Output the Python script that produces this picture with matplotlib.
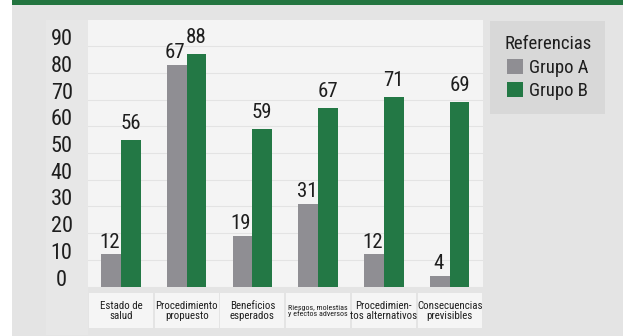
import matplotlib.pyplot as plt
import matplotlib.patches as patches
import matplotlib.transforms as mtransforms
import numpy as np
from matplotlib import rcParams, font_manager

nombres = {f.name for f in font_manager.fontManager.ttflist}
familia = 'Roboto'
for cand in ['Roboto Condensed', 'Liberation Sans Narrow', 'Open Sans Condensed']:
    if cand in nombres:
        familia = cand
        break
rcParams['font.family'] = [familia, 'DejaVu Sans']

# Data
categorias = ['Estado de\nsalud', 'Procedimiento\npropuesto', 'Beneficios\nesperados',
              'Riesgos, molestias\ny efectos adversos', 'Procedimien-\ntos alternativos',
              'Consecuencias\nprevisibles']
grupo_a = [12, 83, 19, 31, 12, 4]
grupo_b = [55, 87, 59, 67, 71, 69]
etiquetas_a = ['12', '67', '19', '31', '12', '4']
etiquetas_b = ['56', '88', '59', '67', '71', '69']
yticks = [0, 10, 20, 30, 40, 50, 60, 70, 80, 90]

GRIS = '#8f8e93'
VERDE = '#237845'
TEXTO = '#1e1e1e'

W, H = 623, 336
fig = plt.figure(figsize=(W / 100, H / 100), dpi=100)
fig.patch.set_facecolor('white')

def px(x0, y0, w, h, color):
    fig.patches.append(patches.Rectangle((x0 / W, 1 - (y0 + h) / H), w / W, h / H,
                                         transform=fig.transFigure, fc=color, ec='none',
                                         zorder=-5))

# background panels
px(12, 0, 611, 336, '#e4e4e4')
px(12, 0, 611, 5, '#237540')
px(46, 20, 42, 315, '#e7e7e7')

ax = fig.add_axes([88 / W, 1 - 286.5 / H, (482.5 - 88) / W, (286.5 - 19.5) / H])
ax.set_facecolor('#f4f4f4')
ax.set_xlim(-0.5, 5.5)
ax.set_ylim(0, 100)

x = np.arange(len(categorias))
w = 0.3
ax.bar(x - w / 2, grupo_a, w, color=GRIS, label='Grupo A', zorder=3)
ax.bar(x + w / 2, grupo_b, w, color=VERDE, label='Grupo B', zorder=3)

for i in range(len(x)):
    ax.annotate(etiquetas_a[i], (x[i] - w / 2, grupo_a[i]), xytext=(-1, 2),
                textcoords='offset points', ha='center', va='bottom', fontsize=15,
                color=TEXTO)
    ax.annotate(etiquetas_b[i], (x[i] + w / 2, grupo_b[i]), xytext=(0, 5),
                textcoords='offset points', ha='center', va='bottom', fontsize=15,
                color=TEXTO)

ax.set_yticks(yticks)
for t in yticks:
    ax.axhline(t, color='#e3e3e3', lw=0.8, zorder=1)
ax.set_yticklabels([])
for t in yticks:
    ax.text(-0.9, t + 2.4, str(t), ha='center', va='center', fontsize=16,
            color=TEXTO, transform=ax.transData, clip_on=False)
ax.set_xticks([])
for s in ax.spines.values():
    s.set_visible(False)
ax.tick_params(left=False)

# category label boxes
trans = mtransforms.blended_transform_factory(ax.transData, ax.transAxes)
for i, cat in enumerate(categorias):
    ax.add_patch(patches.Rectangle((i - 0.485, -0.157), 0.97, 0.131, transform=trans,
                                   fc='#f5f5f5', ec='none', clip_on=False))
    fs = 5.8 if i == 3 else 7.8
    ax.text(i, -0.092, cat, transform=trans, ha='center', va='center', fontsize=fs,
            linespacing=1.0, color=TEXTO, clip_on=False)

leg = fig.legend(loc='upper left', bbox_to_anchor=(490 / W, 1 - 21 / H), title='Referencias',
                 frameon=True, facecolor='#d8d8d8', edgecolor='none', fancybox=False,
                 fontsize=13.5, title_fontsize=13.5, handlelength=0.85, handleheight=0.85,
                 handletextpad=0.35, borderpad=0.75, labelspacing=0.3, borderaxespad=0)
leg.get_frame().set_alpha(1)
for t in leg.get_texts():
    t.set_color(TEXTO)
leg.get_title().set_color(TEXTO)

fig.savefig('out.png', dpi=100)
